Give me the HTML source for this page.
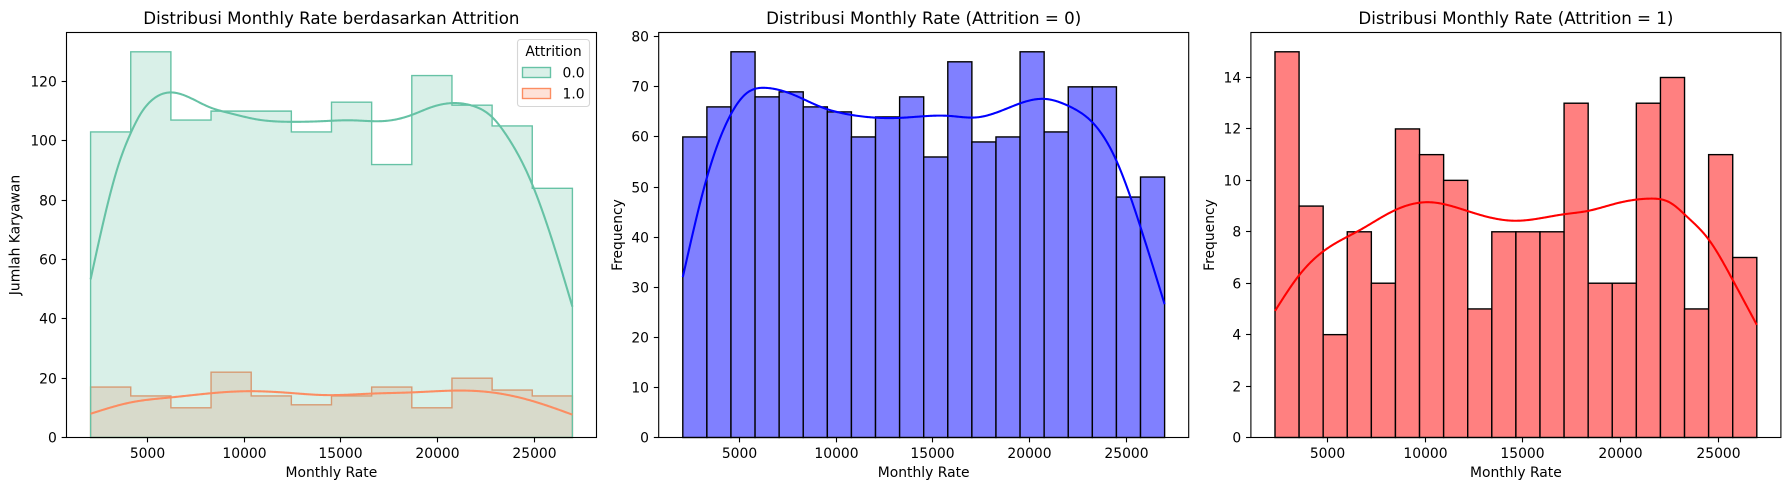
<!DOCTYPE html>
<html lang="en">
<head>
<meta charset="utf-8">
<title>Distribusi Monthly Rate</title>
<style>
html,body{margin:0;padding:0;background:#fff;}
body{width:1790px;height:490px;overflow:hidden;}
svg{display:block;}
text{font-family:"DejaVu Sans","Liberation Sans",sans-serif;fill:#000;}
.title{font-size:16.67px;text-anchor:middle;}
.label{font-size:13.89px;text-anchor:middle;}
.tick{font-size:13.89px;}
</style>
</head>
<body>
<svg id="figure" xmlns="http://www.w3.org/2000/svg" width="1790" height="490" viewBox="0 0 1790 490">
  <rect width="1790" height="490" fill="#ffffff"/>

  <g id="panel-a"></g>
  <g id="panel-b"></g>
  <g id="panel-c"></g>

  <text class="title" x="331.4" y="24.2">Distribusi Monthly Rate berdasarkan Attrition</text>
  <text class="title" x="923.7" y="24.2">Distribusi Monthly Rate (Attrition = 0)</text>
  <text class="title" x="1515.9" y="24.2">Distribusi Monthly Rate (Attrition = 1)</text>

  <text class="label" x="331.4" y="477">Monthly Rate</text>
  <text class="label" x="923.7" y="477">Monthly Rate</text>
  <text class="label" x="1515.9" y="477">Monthly Rate</text>

  <text class="label" transform="translate(19.5 235) rotate(-90)">Jumlah Karyawan</text>
  <text class="label" transform="translate(622 235) rotate(-90)">Frequency</text>
  <text class="label" transform="translate(1214 235) rotate(-90)">Frequency</text>

  <g>
    <rect x="517.5" y="39.5" width="72" height="67" rx="3" ry="3" fill="#ffffff" fill-opacity="0.8" stroke="#cccccc" stroke-opacity="0.8" stroke-width="1.11"/>
    <text class="label" x="553.5" y="56">Attrition</text>
    <rect x="522.5" y="67.5" width="28" height="10" fill="#66c2a5" fill-opacity="0.25" stroke="#66c2a5" stroke-width="1.39"/>
    <text class="tick" x="562.5" y="77.5">0.0</text>
    <rect x="522.5" y="88.5" width="28" height="10" fill="#fc8d62" fill-opacity="0.25" stroke="#fc8d62" stroke-width="1.39"/>
    <text class="tick" x="562.5" y="98.5">1.0</text>
  </g>
</svg>

<script>
// ---------- data ----------
const xTickValues = [5000, 10000, 15000, 20000, 25000];

const panelAYTicks = [0, 20, 40, 60, 80, 100, 120];
const panelBYTicks = [0, 10, 20, 30, 40, 50, 60, 70, 80];
const panelCYTicks = [0, 2, 4, 6, 8, 10, 12, 14];

const panelARange = [2094, 26999];
const panelBRange = [2094, 26999];
const panelCRange = [2326, 26999];

const panelAYMax = 136.5;
const panelBYMax = 80.85;
const panelCYMax = 15.75;

const countsStayed12 = [103, 130, 107, 110, 110, 103, 113, 92, 122, 112, 105, 84];
const countsLeft12 = [17, 14, 10, 22, 14, 11, 14, 17, 10, 20, 16, 14];
const countsStayed20 = [60, 66, 77, 68, 69, 66, 65, 60, 64, 68, 56, 75, 59, 60, 77, 61, 70, 70, 48, 52];
const countsLeft20 = [15, 9, 4, 8, 6, 12, 11, 10, 5, 8, 8, 8, 13, 6, 6, 13, 14, 5, 11, 7];

const kdeStayedRate = [2094, 3532, 4162, 4700, 5280, 6241, 7200, 8253, 9302, 10699, 12447, 14024, 15596, 17344, 18688, 19700, 20752, 21889, 22830, 23637, 24826, 25783, 26999];
const kdeStayedCount = [53.3, 91.8, 102.5, 109.3, 113.8, 116.3, 114.6, 111.3, 109.3, 107.2, 106.4, 106.6, 106.9, 106.7, 108.7, 111.3, 112.7, 111.7, 108.1, 101.4, 86.8, 69.9, 44.1];

const kdeLeftRate = [2094, 4230, 6226, 8290, 10176, 12447, 14195, 16645, 18688, 21538, 22830, 24826, 26999];
const kdeLeftCount = [8.0, 11.9, 13.5, 14.9, 15.6, 15.0, 14.3, 14.8, 15.2, 15.8, 15.2, 12.5, 7.7];

const kdeBlueRate = [2094, 3283, 4509, 5383, 6345, 7829, 9225, 10802, 13248, 15870, 17266, 18668, 20767, 22133, 23270, 24490, 25804, 26999];
const kdeBlueCount = [32.0, 51.1, 64.0, 68.7, 69.8, 68.4, 66.0, 64.4, 63.8, 64.2, 63.9, 65.4, 67.6, 66.0, 62.9, 55.4, 41.4, 26.6];

const kdeRedRate = [2326, 3573, 4780, 6682, 8497, 10225, 12300, 14545, 17111, 18338, 19841, 21544, 22566, 23420, 24524, 25720, 26999];
const kdeRedCount = [4.92, 6.32, 7.23, 8.07, 8.85, 9.15, 8.78, 8.43, 8.68, 8.81, 9.11, 9.29, 9.13, 8.59, 7.71, 6.19, 4.38];

// ---------- layout ----------
const NS = 'http://www.w3.org/2000/svg';
const plotTop = 32.5;
const plotBottom = 437.5;
const plotWidth = 530;

function make(tag, attrs, parent) {
  const el = document.createElementNS(NS, tag);
  for (const k in attrs) el.setAttribute(k, attrs[k]);
  parent.appendChild(el);
  return el;
}

function axes(left, range, yMax) {
  const dataWidth = plotWidth / 1.1;
  const margin = plotWidth * 0.05 / 1.1;
  return {
    left: left,
    x: v => left + margin + (v - range[0]) / (range[1] - range[0]) * dataWidth,
    y: v => plotBottom - v / yMax * (plotBottom - plotTop)
  };
}

// natural cubic spline through the read KDE samples, traced once per pixel
function smoothPath(xs, ys, ax) {
  const n = xs.length;
  const h = [];
  for (let i = 0; i < n - 1; i++) h.push(xs[i + 1] - xs[i]);
  const m = new Array(n).fill(0);
  const cp = new Array(n).fill(0);
  const dp = new Array(n).fill(0);
  for (let i = 1; i < n - 1; i++) {
    const a = h[i - 1], b = 2 * (h[i - 1] + h[i]), c = h[i];
    const r = 6 * ((ys[i + 1] - ys[i]) / h[i] - (ys[i] - ys[i - 1]) / h[i - 1]);
    const den = b - a * cp[i - 1];
    cp[i] = c / den;
    dp[i] = (r - a * dp[i - 1]) / den;
  }
  for (let i = n - 2; i > 0; i--) m[i] = dp[i] - cp[i] * m[i + 1];
  const steps = Math.ceil(ax.x(xs[n - 1]) - ax.x(xs[0]));
  let seg = 0;
  let d = '';
  for (let s = 0; s <= steps; s++) {
    const v = xs[0] + (xs[n - 1] - xs[0]) * s / steps;
    while (seg < n - 2 && v > xs[seg + 1]) seg++;
    const A = (xs[seg + 1] - v) / h[seg], B = (v - xs[seg]) / h[seg];
    const val = A * ys[seg] + B * ys[seg + 1] + ((A * A * A - A) * m[seg] + (B * B * B - B) * m[seg + 1]) * h[seg] * h[seg] / 6;
    d += (s === 0 ? 'M' : 'L') + ax.x(v).toFixed(2) + ' ' + ax.y(val).toFixed(2);
  }
  return d;
}

function drawStepHistogram(g, ax, range, counts, color, prefix) {
  const w = (range[1] - range[0]) / counts.length;
  let d = 'M' + ax.x(range[0]).toFixed(2) + ' ' + ax.y(0).toFixed(2);
  counts.forEach((c, i) => {
    d += 'L' + ax.x(range[0] + i * w).toFixed(2) + ' ' + ax.y(c).toFixed(2);
    d += 'L' + ax.x(range[0] + (i + 1) * w).toFixed(2) + ' ' + ax.y(c).toFixed(2);
  });
  d += 'L' + ax.x(range[1]).toFixed(2) + ' ' + ax.y(0).toFixed(2) + 'Z';
  const line = make('path', { d: d, fill: color, 'fill-opacity': 0.25, stroke: color, 'stroke-width': 1.39, 'stroke-linejoin': 'miter' }, g);
  
  
}

function drawBars(g, ax, range, counts, color, prefix) {
  const w = (range[1] - range[0]) / counts.length;
  counts.forEach((c, i) => {
    const x0 = ax.x(range[0] + i * w), x1 = ax.x(range[0] + (i + 1) * w);
    const bar = make('rect', { x: x0.toFixed(2), y: ax.y(c).toFixed(2), width: (x1 - x0).toFixed(2), height: (ax.y(0) - ax.y(c)).toFixed(2), fill: color, stroke: '#000000', 'stroke-width': 1.39 }, g);
    
    
  });
}

function drawKde(g, ax, xs, ys, color, prefix) {
  const kde = make('path', { d: smoothPath(xs, ys, ax), fill: 'none', stroke: color, 'stroke-width': 2.08, 'stroke-linecap': 'butt', 'stroke-linejoin': 'round' }, g);
  
  
}

function drawFrame(g, ax, yTicks, prefix) {
  const left = ax.left;
  const frame = make('rect', { x: left, y: plotTop, width: plotWidth, height: plotBottom - plotTop, fill: 'none', stroke: '#000000', 'stroke-width': 1.11 }, g);
  
  

  xTickValues.forEach(v => {
    const px = Math.round(ax.x(v)) + 0.5;
    const mark = make('line', { x1: px, x2: px, y1: plotBottom, y2: plotBottom + 4.86, stroke: '#000000', 'stroke-width': 1.11 }, g);
    
    
    const t = make('text', { x: px, y: 458, class: 'tick', 'text-anchor': 'middle' }, g);
    
    
    t.textContent = String(v);
  });

  yTicks.forEach(v => {
    const py = Math.round(ax.y(v) - 0.5) + 0.5;
    const mark = make('line', { x1: left - 4.86, x2: left, y1: py, y2: py, stroke: '#000000', 'stroke-width': 1.11 }, g);
    
    
    const t = make('text', { x: left - 9.7, y: py + 5.05, class: 'tick', 'text-anchor': 'end' }, g);
    
    
    t.textContent = String(v);
  });
}

// ---------- panels ----------
const axA = axes(66.5, panelARange, panelAYMax);
const axB = axes(658.7, panelBRange, panelBYMax);
const axC = axes(1250.9, panelCRange, panelCYMax);

const gA = document.getElementById('panel-a');
// the attrition = 1 histogram sits underneath the attrition = 0 histogram
drawStepHistogram(gA, axA, panelARange, countsLeft12, '#fc8d62', 'attrition-1');
drawStepHistogram(gA, axA, panelARange, countsStayed12, '#66c2a5', 'attrition-0');
drawKde(gA, axA, kdeStayedRate, kdeStayedCount, '#66c2a5', 'attrition-0');
drawKde(gA, axA, kdeLeftRate, kdeLeftCount, '#fc8d62', 'attrition-1');
drawFrame(gA, axA, panelAYTicks, 'panel-by-attrition');

const gB = document.getElementById('panel-b');
drawBars(gB, axB, panelBRange, countsStayed20, '#8080ff', 'stayed');
drawKde(gB, axB, kdeBlueRate, kdeBlueCount, '#0000ff', 'stayed');
drawFrame(gB, axB, panelBYTicks, 'panel-attrition-0');

const gC = document.getElementById('panel-c');
drawBars(gC, axC, panelCRange, countsLeft20, '#ff8080', 'left');
drawKde(gC, axC, kdeRedRate, kdeRedCount, '#ff0000', 'left');
drawFrame(gC, axC, panelCYTicks, 'panel-attrition-1');
</script>
</body>
</html>
